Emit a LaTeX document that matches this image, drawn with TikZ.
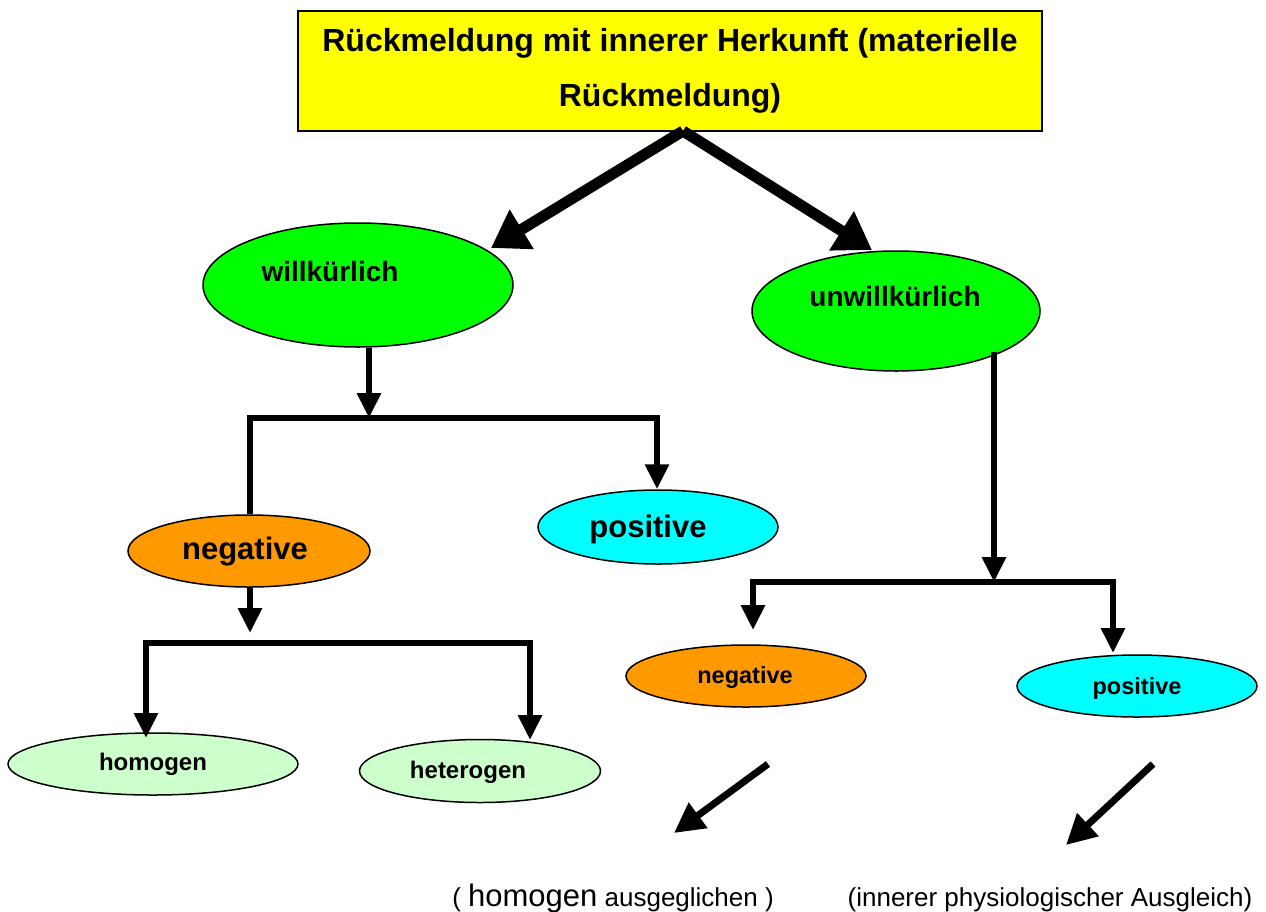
\documentclass[tikz,border=0pt]{standalone}
\usepackage{fontspec}
\setmainfont{Liberation Sans}
\usetikzlibrary{arrows.meta,shapes.geometric}
\definecolor{boxyellow}{HTML}{FFFF00}
\definecolor{brightgreen}{HTML}{00FF00}
\definecolor{paleGreen}{HTML}{CCFFCC}
\definecolor{aqua}{HTML}{00FFFF}
\definecolor{amber}{HTML}{FF9900}
\begin{document}
\begin{tikzpicture}[x=1pt,y=-1pt,
  oval/.style={ellipse, draw=black, line width=1.5pt, inner sep=0pt},
  lbl/.style={font=\bfseries\fontsize{#1}{#1}\selectfont, inner sep=0pt},
  plain/.style={font=\fontsize{26}{26}\selectfont, inner sep=0pt},
  conn/.style={line width=6pt, -{Triangle[length=25pt,width=23pt]}},
  fork/.style={line width=6pt, {Triangle[length=25pt,width=23pt]}-{Triangle[length=25pt,width=23pt]}},
  bigarrow/.style={line width=11pt, -{Triangle[length=36pt,width=44pt]}},
  diag/.style={line width=7pt, -{Triangle[length=30pt,width=30pt]}}]
\useasboundingbox (0,0) rectangle (1266,911);

% title box
\node[draw=black, line width=1.5pt, fill=boxyellow, minimum width=744pt, minimum height=120pt,
      align=center, font=\bfseries\fontsize{32}{55}\selectfont] (top) at (670,71)
  {Rückmeldung mit innerer Herkunft (materielle\\Rückmeldung)};

% ellipses
\node[oval, fill=brightgreen, minimum width=310pt, minimum height=124pt] (w) at (358,285) {};
\node[oval, fill=brightgreen, minimum width=288pt, minimum height=120pt] (u) at (896,311) {};
\node[oval, fill=amber, minimum width=242pt, minimum height=72pt] (negL) at (249,551) {};
\node[oval, fill=aqua, minimum width=240pt, minimum height=74pt] (posL) at (658,527) {};
\node[oval, fill=paleGreen, minimum width=290pt, minimum height=62pt] (hom) at (153,764) {};
\node[oval, fill=paleGreen, minimum width=241pt, minimum height=63pt] (het) at (480,771) {};
\node[oval, fill=amber, minimum width=240pt, minimum height=62pt] (negR) at (746,676) {};
\node[oval, fill=aqua, minimum width=240pt, minimum height=62pt] (posR) at (1137,686) {};

% labels
\node[lbl=28] (wT) at (330,271) {willkürlich};
\node[lbl=28] (uT) at (895,296) {unwillkürlich};
\node[lbl=31] (negLT) at (245,552) {negative};
\node[lbl=31] (posLT) at (648,529) {positive};
\node[lbl=24] (homT) at (153,764) {homogen};
\node[lbl=24] (hetT) at (468,772) {heterogen};
\node[lbl=23.5] (negRT) at (745,677) {negative};
\node[lbl=23.5] (posRT) at (1137,688) {positive};

% bottom remarks
\node[inner sep=0pt, anchor=base] (remA) at (613,906)
  {{\fontsize{26}{26}\selectfont(\ }{\fontsize{31}{31}\selectfont homogen}{\fontsize{26}{26}\selectfont\ ausgeglichen )}};
\node[plain, anchor=base] (remB) at (1050,906) {(innerer physiologischer Ausgleich)};

% junction points
\coordinate (topStart) at (683,131);
\coordinate (wTip) at (491,248);
\coordinate (uTip) at (872,250);
\coordinate (barA) at (369,418);
\coordinate (negLTip) at (250,633);
\coordinate (uJoin) at (994,582);
\coordinate (diagA) at (768,764);
\coordinate (diagAend) at (674,833);
\coordinate (diagB) at (1153,764);
\coordinate (diagBend) at (1066,845);

% top split
\draw[bigarrow] (topStart) -- (wTip);
\draw[bigarrow] (topStart) -- (uTip);

% left branch
\draw[conn] (w.south -| barA) -- (barA);
\draw[conn] (negL.north -| 250,0) -- (250,418) -- (657,418) -- (posL.north -| 657,0);
\draw[conn] (negL.south -| negLTip) -- (negLTip);
\draw[fork] (146,738) -- (146,643) -- (530,643) -- (530,740);

% right branch
\draw[conn] (994,352) -- (uJoin);
\draw[fork] (753,630) -- (753,582) -- (1113,582) -- (1113,653);

% diagonal hints
\draw[diag] (diagA) -- (diagAend);
\draw[diag] (diagB) -- (diagBend);
\end{tikzpicture}
\end{document}
